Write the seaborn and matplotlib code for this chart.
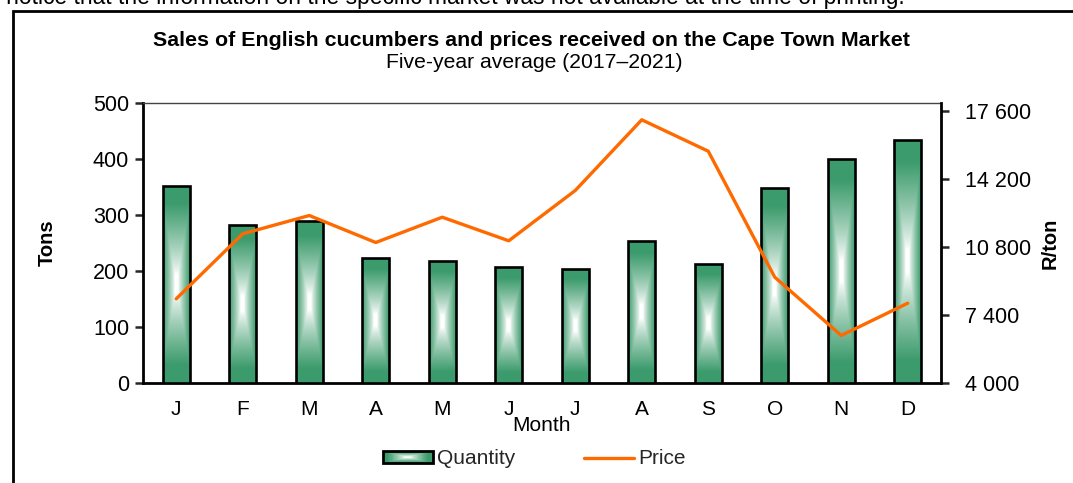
import numpy as np
import pandas as pd
import matplotlib
matplotlib.use("Agg")
import matplotlib.pyplot as plt
import seaborn as sns
from matplotlib.patches import Rectangle, Patch
from matplotlib.lines import Line2D
from matplotlib.legend_handler import HandlerBase

# ---- data ----
months = ["Jan", "Feb", "Mar", "Apr", "May", "Jun", "Jul", "Aug", "Sep", "Oct", "Nov", "Dec"]
month_labels = ["J", "F", "M", "A", "M", "J", "J", "A", "S", "O", "N", "D"]
quantity_tons = [352, 283, 289, 224, 218, 207, 204, 254, 213, 348, 400, 434]
price_r_per_ton = [8210, 11460, 12375, 11025, 12290, 11110, 13625, 17160, 15590, 9290, 6375, 7990]
left_ticks = [0, 100, 200, 300, 400, 500]
right_ticks = [4000, 7400, 10800, 14200, 17600]

GREEN = np.array([0x3C, 0x9B, 0x6C]) / 255.0
ORANGE = "#FF6A00"
FONT = ["Liberation Sans", "DejaVu Sans"]

sns.set_theme(style="white")
plt.rcParams["font.family"] = FONT
plt.rcParams["axes.unicode_minus"] = False

fig = plt.figure(figsize=(10.73, 4.83), dpi=100)
ax = fig.add_axes([143 / 1073, 1 - 383 / 483, (941 - 143) / 1073, (383 - 103) / 483])

df = pd.DataFrame({"Month": months, "Tons": quantity_tons, "Price": price_r_per_ton})
sns.barplot(data=df, x="Month", y="Tons", order=months, ax=ax, width=0.4,
            color="white", edgecolor="black", linewidth=1.9, saturation=1, zorder=3)


def shade(t):
    return np.clip((t - 0.1) / 0.72, 0, 1) ** 0.8


def grad_img(n=200, m=60):
    v = np.linspace(-1, 1, n)[:, None]
    u = np.linspace(-1, 1, m)[None, :]
    t = np.maximum(np.abs(u) * 0.8, np.abs(v))
    f = shade(t)
    img = (1 - f[..., None]) * np.ones(3) + f[..., None] * GREEN
    return img


img = grad_img()
for p in list(ax.patches):
    x0, y0 = p.get_x(), p.get_y()
    w, h = p.get_width(), p.get_height()
    p.set_facecolor("none")
    p.set_zorder(4)
    im = ax.imshow(img, extent=[x0, x0 + w, y0, y0 + h], aspect="auto",
                   origin="lower", zorder=3, interpolation="bilinear")
    im.set_clip_path(p)

ax.set_xlim(-0.5, 11.5)
ax.set_ylim(0, 500)
ax.set_yticks(left_ticks)
ax.set_yticklabels([str(t) for t in left_ticks])
ax.set_xticks(np.arange(-0.5, 12, 1.0))
ax.set_xticklabels([])
ax.set_xticks(np.arange(12), minor=True)
ax.set_xticklabels(month_labels, minor=True)
ax.tick_params(axis="x", which="major", length=6, width=1.8, direction="out", color="black")
ax.tick_params(axis="x", which="minor", length=0, labelsize=15, pad=12, labelcolor="black")
ax.tick_params(axis="y", length=6, width=1.8, direction="out", labelsize=15.5, pad=4,
               labelcolor="black", left=True)
ax.set_xlabel("Month", fontsize=15, labelpad=-2, color="black")
ax.set_ylabel("Tons", fontsize=14.5, fontweight="bold", labelpad=26, color="black")
for s in ["left", "bottom"]:
    ax.spines[s].set_linewidth(2)
    ax.spines[s].set_color("black")
ax.spines["top"].set_linewidth(1)
ax.spines["top"].set_color("#444444")
ax.spines["right"].set_visible(False)

ax2 = ax.twinx()
sns.lineplot(x=np.arange(12), y=price_r_per_ton, ax=ax2, color=ORANGE, linewidth=2.4)
ax2.set_ylim(4000, 18000)
ax2.set_yticks(right_ticks)
ax2.set_yticklabels([f"{t:,}".replace(",", " ") for t in right_ticks])
ax2.tick_params(axis="y", length=6, width=1.8, direction="out", labelsize=15.5, pad=11,
                labelcolor="black", right=True)
ax2.set_ylabel("R/ton", fontsize=14.5, fontweight="bold", labelpad=7, color="black")
for s in ["left", "bottom", "top"]:
    ax2.spines[s].set_visible(False)
ax2.spines["right"].set_linewidth(2)
ax2.spines["right"].set_color("black")
ax2.set_xlim(-0.5, 11.5)

# titles
fig.text(531 / 1073, 1 - 40 / 483, "Sales of English cucumbers and prices received on the Cape Town Market",
         ha="center", va="center", fontsize=15.4, fontweight="bold", color="black")
fig.text(534 / 1073, 1 - 62 / 483, "Five-year average (2017\u20132021)",
         ha="center", va="center", fontsize=15.2, color="black")

# cut-off note at the very top (as in the reference)
fig.text(905 / 1073, 1 - 4 / 483,
         "Please notice that the information on the specific market was not available at the time of printing.",
         ha="right", va="baseline", fontsize=16.4, color="black")

# border box
fig.patches.append(Rectangle((13 / 1073, -0.05), 1.1, 1 - 11 / 483 + 0.05, transform=fig.transFigure,
                             fill=False, edgecolor="black", linewidth=2))


class HandlerGradient(HandlerBase):
    def create_artists(self, legend, orig_handle, xdescent, ydescent, width, height, fontsize, trans):
        arts = []
        n = 30
        for i in range(n):
            frac = i / n
            t = 1 - frac
            f = shade(t)
            col = (1 - f) * np.ones(3) + f * GREEN
            dx = frac * width / 2
            dy = frac * height / 2
            r = Rectangle((-xdescent + dx, -ydescent + dy), width - 2 * dx, height - 2 * dy,
                          facecolor=col, edgecolor="none", transform=trans)
            arts.append(r)
        border = Rectangle((-xdescent, -ydescent), width, height, facecolor="none",
                           edgecolor="black", linewidth=2, transform=trans)
        arts.append(border)
        return arts


handles = [Patch(label="Quantity"), Line2D([], [], color=ORANGE, linewidth=2.4, label="Price")]
fig.legend(handles=handles, labels=["Quantity", "Price"], loc="center",
           bbox_to_anchor=(534 / 1073, 1 - 459 / 483), ncol=2, frameon=False,
           fontsize=15, handlelength=2.4, handleheight=0.55, handletextpad=0.2,
           columnspacing=3.3, handler_map={Patch: HandlerGradient()})

fig.savefig("out.png", dpi=100)
